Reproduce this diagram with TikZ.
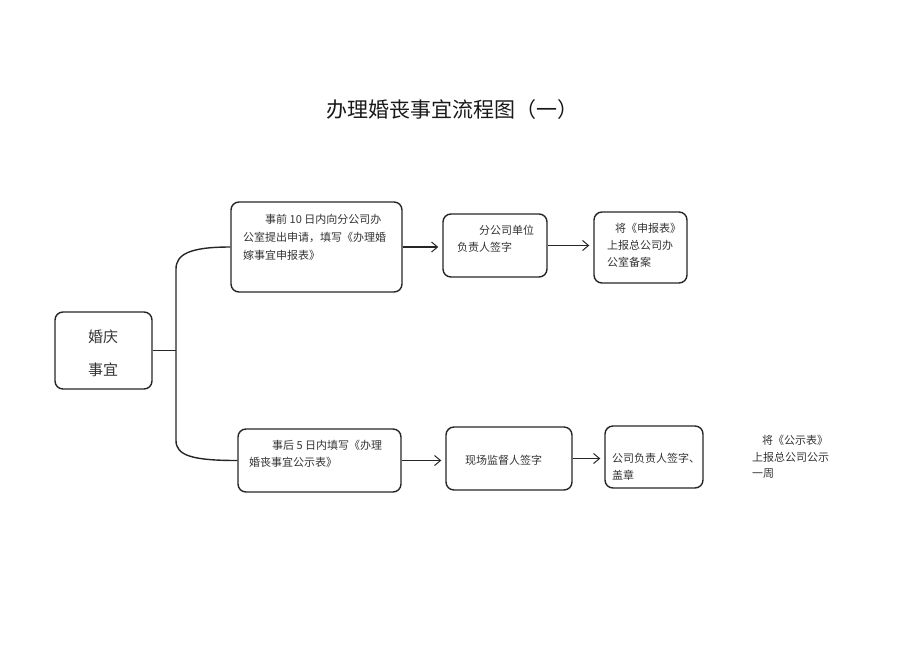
\documentclass[tikz,border=0pt]{standalone}
\usepackage{fontspec}
\newfontfamily\cjk{Noto Sans CJK SC}
\usetikzlibrary{arrows.meta,calc}
\begin{document}
\begin{tikzpicture}[x=1pt,y=-1pt,
  box/.style={draw=black!85, line width=1.4pt, rounded corners=8pt, inner sep=0pt},
  txt/.style={font=\cjk\fontsize{11}{17}\selectfont, align=left, anchor=north west, inner sep=0pt, text=black!80},
  conn/.style={draw=black!85, line width=1.4pt},
  arr/.style={draw=black!85, line width=1.2pt, -{Straight Barb[length=6pt,width=10pt,line width=1pt]}, shorten >=4pt}]
\useasboundingbox (0,0) rectangle (920,651);
% title
\node[font=\cjk\fontsize{21}{24}\selectfont, text=black!90] (title) at (452,110) {办理婚丧事宜流程图（一）};
% boxes
\node[box, minimum width=97pt, minimum height=77pt] (M) at (103.5,350.5) {};
\node[box, minimum width=171pt, minimum height=90pt] (A1) at (316.5,247) {};
\node[box, minimum width=104pt, minimum height=63pt] (A2) at (495,245.5) {};
\node[box, minimum width=93pt, minimum height=71pt] (A3) at (640.5,247.5) {};
\node[box, minimum width=163pt, minimum height=63pt] (B1) at (319.5,460.5) {};
\node[box, minimum width=126pt, minimum height=63pt] (B2) at (509,458.5) {};
\node[box, minimum width=98pt, minimum height=62pt] (B3) at (654,457) {};
% texts
\node[font=\cjk\fontsize{15}{33}\selectfont, align=center, inner sep=0pt, text=black!80] (Mt) at (103,353) {婚庆\\事宜};
\node[txt, font=\cjk\fontsize{11}{18}\selectfont] (A1t) at (243,214) {\hspace*{22pt}事前 10 日内向分公司办\\公室提出申请，填写《办理婚\\嫁事宜申报表》};
\node[txt] (A2t) at (457,225) {\hspace*{22pt}分公司单位\\负责人签字};
\node[txt] (A3t) at (607,223) {\hspace*{8pt}将《申报表》\\上报总公司办\\公室备案};
\node[txt] (B1t) at (249,440) {\hspace*{23pt}事后 5 日内填写《办理\\婚丧事宜公示表》};
\node[txt, anchor=west] (B2t) at (465,460) {现场监督人签字};
\node[txt] (B3t) at (612,453) {公司负责人签字、\\盖章};
\node[txt, font=\cjk\fontsize{11}{16.5}\selectfont] (Ft) at (752,435) {\hspace*{10pt}将《公示表》\\上报总公司公示\\一周};
% connectors
\coordinate (jn) at (176,352);
\draw[conn] (M.east) -- (M.east -| jn);
\draw[conn] (A1.west) .. controls +(-40,0) and +(0,-15) .. ($(jn |- A1.west)+(0,22)$)
  -- ($(jn |- B1.west)+(0,-20)$) .. controls +(0,15) and +(-45,0) .. (B1.west);
\draw[arr] (A1.east) -- (A1.east -| A2.west);
\draw[arr] (A2.east) -- (A2.east -| A3.west);
\draw[arr] (B1.east) -- (B1.east -| B2.west);
\draw[arr] (B2.east) -- (B2.east -| B3.west);
\end{tikzpicture}
\end{document}
